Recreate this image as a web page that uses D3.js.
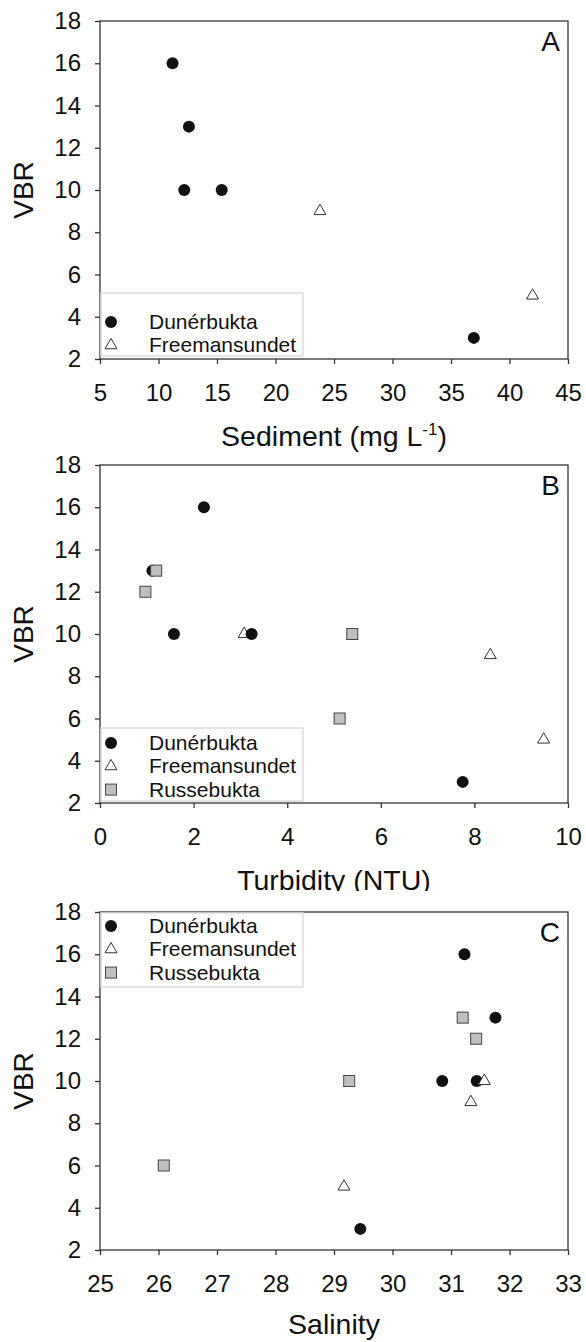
<!DOCTYPE html>
<html>
<head>
<meta charset="UTF-8">
<title>VBR vs sediment, turbidity, salinity</title>
<script src="https://d3js.org/d3.v7.min.js"></script>
<style>
  body { margin: 0; background: #fff; }
  text { font-family: "Liberation Sans", Arial, sans-serif; fill: #111; }
</style>
</head>
<body>
<div id="id_chart"></div>

<script>
// site names (legend)
var siteNames = ["Dunérbukta", "Freemansundet", "Russebukta"];

// panel A - sediment
var sedDunX = [11.2, 12.6, 12.2, 15.4, 36.95];
var sedDunY = [16, 13, 10, 10, 3];
var sedFreX = [23.8, 41.97];
var sedFreY = [9, 5];

// panel B - turbidity
var turDunX = [2.22, 1.58, 3.24, 7.75, 1.12];
var turDunY = [16, 10, 10, 3, 13];
var turFreX = [3.08, 8.34, 9.48];
var turFreY = [10, 9, 5];
var turRusX = [0.97, 1.2, 5.39, 5.12];
var turRusY = [12, 13, 10, 6];

// panel C - salinity
var salDunX = [31.23, 31.76, 30.85, 31.44, 29.45];
var salDunY = [16, 13, 10, 10, 3];
var salFreX = [31.57, 31.34, 29.17];
var salFreY = [10, 9, 5];
var salRusX = [31.2, 31.43, 29.26, 26.09];
var salRusY = [13, 12, 10, 6];

// tick labels
var vbrTicks = [2, 4, 6, 8, 10, 12, 14, 16, 18];
var sedTicks = [5, 10, 15, 20, 25, 30, 35, 40, 45];
var turTicks = [0, 2, 4, 6, 8, 10];
var salTicks = [25, 26, 27, 28, 29, 30, 31, 32, 33];

function pts(xs, ys) {
  return xs.map(function(v, i) { return {x: v, y: ys[i]}; });
}

var panels = [
  { label: "A", title: "Sediment (mg L", sup: "-1", ticks: sedTicks, top: 21, titleOff: 87,
    legTop: 293, legBottom: 356, legRow: 322, legN: 2, clip: false,
    series: [
      {kind: "circle", data: pts(sedDunX, sedDunY)},
      {kind: "triangle", data: pts(sedFreX, sedFreY)}
    ] },
  { label: "B", title: "Turbidity (NTU)", sup: "", ticks: turTicks, top: 465, titleOff: 87,
    legTop: 728, legBottom: 801, legRow: 743, legN: 3, clip: true,
    series: [
      {kind: "triangle", data: pts(turFreX, turFreY)},
      {kind: "circle", data: pts(turDunX, turDunY)},
      {kind: "square", data: pts(turRusX, turRusY)}
    ] },
  { label: "C", title: "Salinity", sup: "", ticks: salTicks, top: 912, titleOff: 84,
    legTop: 913, legBottom: 987, legRow: 926, legN: 3, clip: false,
    series: [
      {kind: "circle", data: pts(salDunX, salDunY)},
      {kind: "square", data: pts(salRusX, salRusY)},
      {kind: "triangle", data: pts(salFreX, salFreY)}
    ] }
];

var W = 586, H = 1342;
var left = 100, right = 568, plotH = 338;
var axisColor = "#333";

var svg = d3.select("#id_chart")
  .append("svg")
    .attr("width", W)
    .attr("height", H);

function marker(sel, kind) {
  if (kind == "circle") {
    sel.append("circle").attr("r", 6).attr("fill", "#111");
  } else if (kind == "triangle") {
    sel.append("path")
      .attr("d", d3.symbol(d3.symbolTriangle, 62)())
      .attr("fill", "#fff")
      .attr("stroke", "#333")
      .attr("stroke-width", 1);
  } else {
    sel.append("rect")
      .attr("x", -5.5).attr("y", -5.5)
      .attr("width", 11).attr("height", 11)
      .attr("fill", "#c0c0c0")
      .attr("stroke", "#444")
      .attr("stroke-width", 1);
  }
}

var kindOrder = ["circle", "triangle", "square"];

panels.forEach(function(p, k) {
  var x = d3.scaleLinear()
    .domain([p.ticks[0], p.ticks[p.ticks.length - 1]])
    .range([left, right]);
  var y = d3.scaleLinear()
    .domain([2, 18])
    .range([p.top + plotH, p.top]);

  var g = svg.append("g");

  // Y axis
  var ya = g.append("g")
    .attr("transform", "translate(" + left + ",0)")
    .call(d3.axisLeft(y).tickValues(vbrTicks).tickSize(5).tickSizeOuter(0).tickPadding(14));
  // X axis
  var xa = g.append("g")
    .attr("transform", "translate(0," + (p.top + plotH) + ")")
    .call(d3.axisBottom(x).tickValues(p.ticks).tickSize(5).tickSizeOuter(0).tickPadding(20));

  [ya, xa].forEach(function(a) {
    a.selectAll("line").attr("stroke", axisColor).attr("stroke-width", 1.3);
    a.select(".domain").remove();
    a.selectAll("text")
      .style("font-family", "'Liberation Sans', Arial, sans-serif")
      .style("font-size", "24px")
      .attr("fill", "#111");
  });
  xa.selectAll("text").attr("dy", "0.72em");

  // frame
  g.append("rect")
    .attr("x", left).attr("y", p.top)
    .attr("width", right - left).attr("height", plotH)
    .attr("fill", "none")
    .attr("stroke", axisColor)
    .attr("stroke-width", 1.3);

  // legend box
  g.append("rect")
    .attr("x", 101).attr("y", p.legTop)
    .attr("width", 202).attr("height", p.legBottom - p.legTop)
    .attr("fill", "#fff")
    .attr("stroke", "#ddd")
    .attr("stroke-width", 1.5);

  for (var i = 0; i < p.legN; i++) {
    var ly = p.legRow + i * 23.3;
    var lg = g.append("g").attr("transform", "translate(111," + ly + ")");
    marker(lg, kindOrder[i]);
    g.append("text")
      .attr("x", 149).attr("y", ly + 7)
      .style("font-size", "21px")
      .text(siteNames[i]);
  }

  // points
  p.series.forEach(function(s) {
    g.selectAll(null)
      .data(s.data)
      .enter()
      .append("g")
        .attr("transform", function(d) { return "translate(" + x(d.x) + "," + y(d.y) + ")"; })
        .each(function() { marker(d3.select(this), s.kind); });
  });

  // panel letter
  g.append("text")
    .attr("x", 560).attr("y", p.top + 30)
    .attr("text-anchor", "end")
    .style("font-size", "28px")
    .text(p.label);

  // VBR label
  g.append("text")
    .attr("transform", "translate(33," + (p.top + plotH / 2) + ") rotate(-90)")
    .attr("text-anchor", "middle")
    .style("font-size", "28px")
    .text("VBR");

  // x title (B is cut off just under its baseline, as in the source figure)
  if (p.clip) {
    svg.append("clipPath").attr("id", "clip" + k)
      .append("rect").attr("x", 0).attr("y", 0).attr("width", W).attr("height", p.top + plotH + 88);
  }
  var t = g.append("text")
    .attr("x", (left + right) / 2)
    .attr("y", p.top + plotH + p.titleOff)
    .attr("text-anchor", "middle")
    .style("font-size", "28.5px")
    .text(p.title);
  if (p.sup) {
    t.append("tspan").attr("dy", -11).style("font-size", "17px").text(p.sup);
    t.append("tspan").attr("dy", 11).text(")");
  }
  if (p.clip) t.attr("clip-path", "url(#clip" + k + ")");
});
</script>
</body>
</html>
